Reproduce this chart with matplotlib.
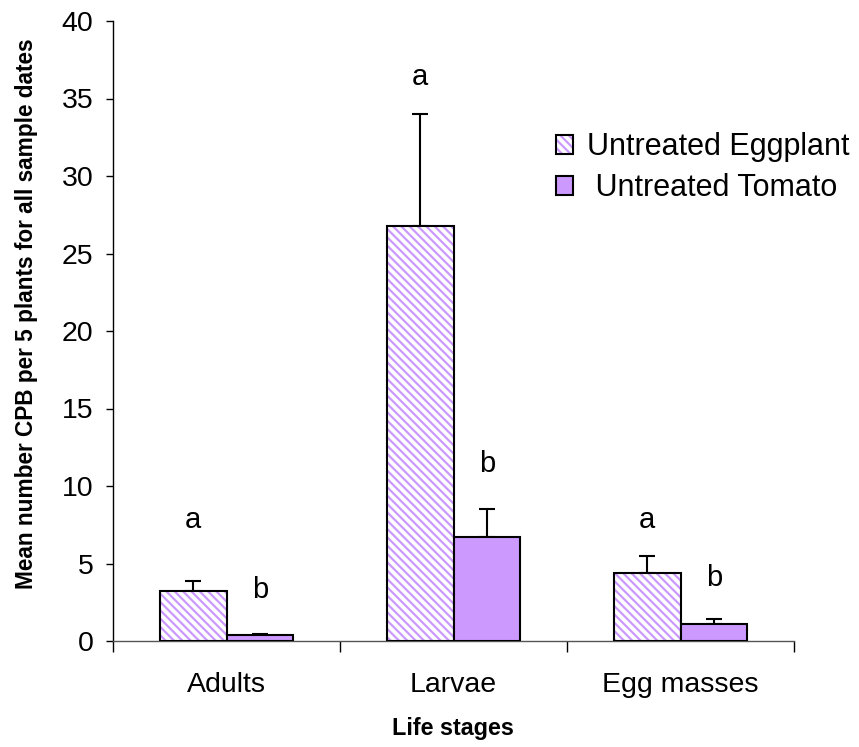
import matplotlib
matplotlib.use("Agg")
import matplotlib.pyplot as plt
import numpy as np
from matplotlib.patches import Patch

plt.rcParams['font.family'] = ['Liberation Sans', 'DejaVu Sans']
plt.rcParams['hatch.linewidth'] = 1.6

categories = ["Adults", "Larvae", "Egg masses"]
series_names = ["Untreated Eggplant", " Untreated Tomato"]
eggplant = [3.25, 26.8, 4.4]
eggplant_err = [0.65, 7.2, 1.1]
tomato = [0.4, 6.7, 1.1]
tomato_err = [0.05, 1.8, 0.3]
eggplant_letters = ["a", "a", "a"]
tomato_letters = ["b", "b", "b"]
eggplant_letter_y = [7.3, 35.9, 7.3]
tomato_letter_y = [2.77, 10.9, 3.55]

purple = "#CC99FF"
W, H = 859, 747

fig = plt.figure(figsize=(W / 100, H / 100), dpi=100)
ax = fig.add_axes([113 / W, 1 - 641 / H, 681 / W, 620 / H])

x = np.arange(len(categories))
w = 0.293

ax.bar(x - w/2, eggplant, w, color="white", edgecolor=purple, hatch='\\\\\\\\', linewidth=0, zorder=2)
ax.bar(x - w/2, eggplant, w, fill=False, edgecolor="black", linewidth=1.5, zorder=3)
ax.bar(x + w/2, tomato, w, color=purple, edgecolor="black", linewidth=1.5, zorder=3)

ax.errorbar(x - w/2, eggplant, yerr=[np.zeros(3), eggplant_err], fmt='none', ecolor='black',
            elinewidth=1.5, capsize=5.5, capthick=1.5, zorder=1)
ax.errorbar(x + w/2, tomato, yerr=[np.zeros(3), tomato_err], fmt='none', ecolor='black',
            elinewidth=1.5, capsize=5.5, capthick=1.5, zorder=1)

for i in range(len(categories)):
    ax.text(x[i] - w/2, eggplant_letter_y[i], eggplant_letters[i], ha='center', va='baseline', fontsize=21)
    ax.text(x[i] + w/2, tomato_letter_y[i], tomato_letters[i], ha='center', va='baseline', fontsize=21)

ax.set_xlim(-0.5, 2.5)
ax.set_ylim(0, 40)
ax.set_yticks(np.arange(0, 41, 5))
ax.set_xticks([-0.5, 0.5, 1.5, 2.5])
ax.set_xticklabels([])
ax.set_xticks(x, minor=True)
ax.set_xticklabels(categories, minor=True, fontsize=20.5)
ax.tick_params(axis='x', which='minor', length=0, pad=22)
ax.tick_params(axis='x', which='major', direction='out', length=8, width=1)
ax.tick_params(axis='y', direction='out', length=5, width=1, labelsize=20.5, pad=9)
for s in ['top', 'right']:
    ax.spines[s].set_visible(False)
ax.spines['left'].set_linewidth(1)
ax.spines['bottom'].set_linewidth(1)
ax.spines['bottom'].set_color('#555555')

fig.text(27 / W, 1 - 314 / H, "Mean number CPB per 5 plants for all sample dates", rotation=90,
         ha='center', va='center', fontsize=16.3, fontweight='bold')
fig.text(453 / W, 1 - 735 / H, "Life stages", ha='center', va='baseline',
         fontsize=16.8, fontweight='bold')

h0 = (Patch(facecolor='white', edgecolor=purple, hatch='\\\\\\\\', linewidth=0),
      Patch(fill=False, edgecolor='black', linewidth=1.5))
h1 = Patch(facecolor=purple, edgecolor='black', linewidth=1.5)
fs = 22
fs_px = fs * 100 / 72
leg = fig.legend([h0, h1], series_names, loc='center left',
                 bbox_to_anchor=((556 - 0.4 * fs_px) / W, 1 - 168 / H),
                 frameon=False, fontsize=fs, handlelength=17 / fs_px, handleheight=17 / fs_px,
                 handletextpad=14 / fs_px, labelspacing=0.36, borderpad=0.4, borderaxespad=0)

fig.savefig("out.png", dpi=100)
